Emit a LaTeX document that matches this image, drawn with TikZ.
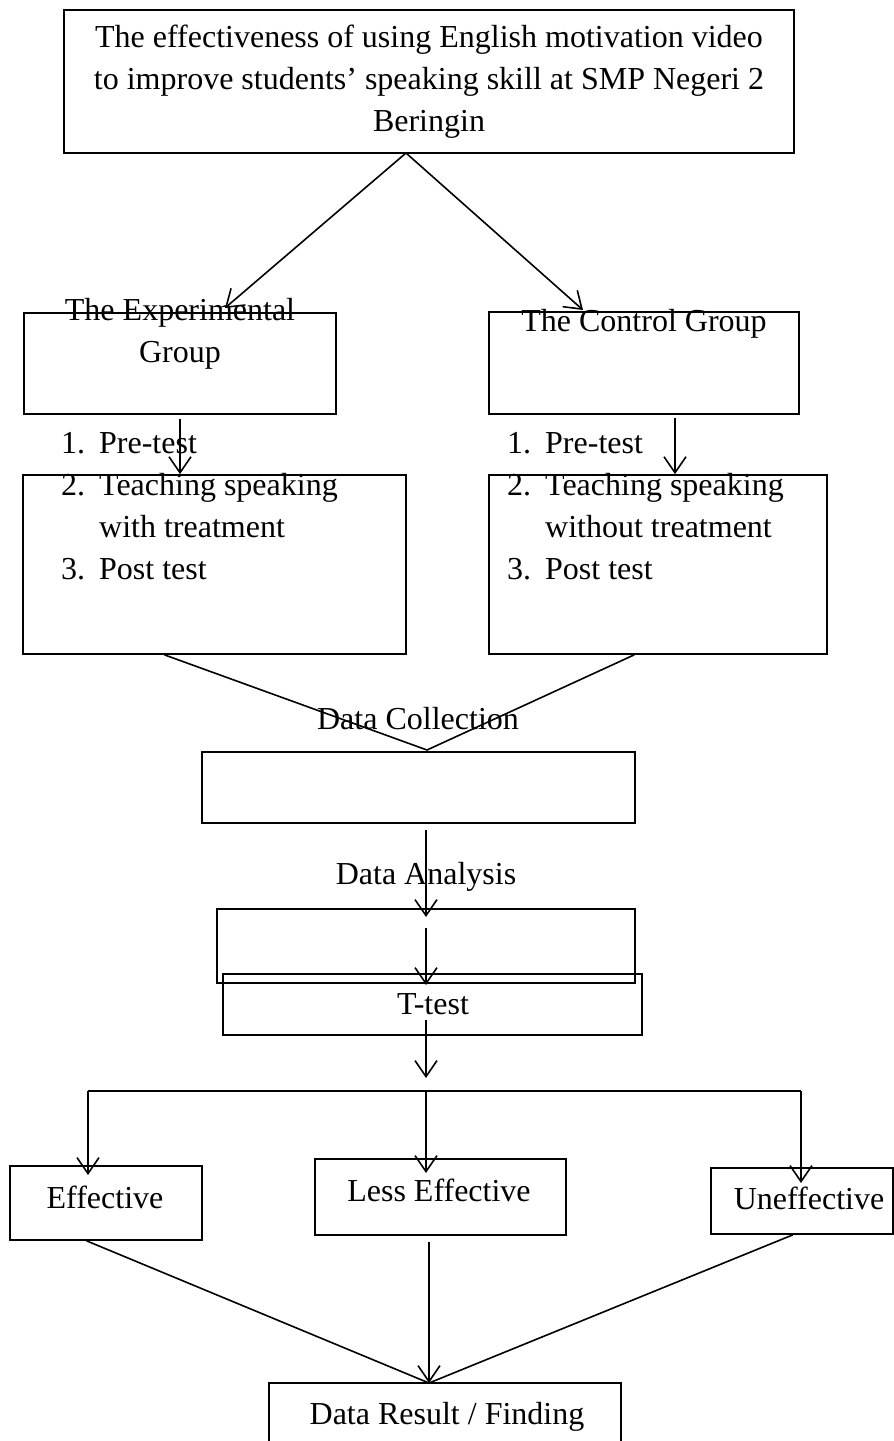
\documentclass[tikz,border=0pt]{standalone}
\usepackage{fontspec}
\setmainfont{Liberation Serif}
\usetikzlibrary{arrows.meta}
\usetikzlibrary{calc}
\usetikzlibrary{positioning}
\newcommand{\diagfont}{\fontsize{32}{42}\selectfont}
\tikzset{
  box/.style={draw, line width=1.7pt, inner sep=0pt},
  txt/.style={font=\diagfont, inner sep=0pt, anchor=base},
  arrow/.style={-{Straight Barb[length=16pt,width=22pt]}, line width=1.6pt},
  link/.style={line width=1.6pt}
}
\begin{document}
\begin{tikzpicture}[x=1pt, y=-1pt]
\useasboundingbox (0,0) rectangle (894,1441);

% boxes
\node[box, minimum width=730pt, minimum height=143pt, align=center, font=\diagfont] (topic) at (429,81.5)
  {The effectiveness of using English motivation video\\to improve students’ speaking skill at SMP Negeri 2\\Beringin};
\node[box, minimum width=312pt, minimum height=101pt] (expgroup) at (180,363.5) {};
\node[box, minimum width=310pt, minimum height=102pt] (ctlgroup) at (644,363) {};
\node[box, minimum width=383pt, minimum height=179pt] (expsteps) at (214.5,564.5) {};
\node[box, minimum width=338pt, minimum height=179pt] (ctlsteps) at (658,564.5) {};
\node[box, minimum width=433pt, minimum height=71pt] (collect) at (418.5,787.5) {};
\node[box, minimum width=418pt, minimum height=74pt] (analysis) at (426,946) {};
\node[box, minimum width=419pt, minimum height=61pt] (ttest) at (432.5,1004.5) {};
\node[box, minimum width=192pt, minimum height=74pt] (eff) at (106,1203) {};
\node[box, minimum width=251pt, minimum height=76pt] (less) at (440.5,1197) {};
\node[box, minimum width=182pt, minimum height=66pt] (uneff) at (802,1201) {};
\node[box, minimum width=352pt, minimum height=67pt] (result) at (445,1416.5) {};

% texts
\node[txt, align=center, anchor=center] (exptext) at (180,334) {The Experimental\\Group};
\node[txt] (ctltext) at (644,331) {The Control Group};
\node[txt, anchor=base west] (expsteptext) at (61,453)
  {\begin{tabular}[t]{@{}p{38pt}@{}l@{}}1. & Pre-test\\2. & Teaching speaking\\ & with treatment\\3. & Post test\end{tabular}};
\node[txt, anchor=base west] (ctlsteptext) at (507,453)
  {\begin{tabular}[t]{@{}p{38pt}@{}l@{}}1. & Pre-test\\2. & Teaching speaking\\ & without treatment\\3. & Post test\end{tabular}};
\node[txt] (collecttext) at (418,729) {Data Collection};
\node[txt] (analysistext) at (426,884) {Data Analysis};
\node[txt] (ttesttext) at (433,1014) {T-test};
\node[txt] (efftext) at (105,1208) {Effective};
\node[txt] (lesstext) at (439,1201) {Less Effective};
\node[txt] (unefftext) at (809,1209) {Uneffective};
\node[txt] (resulttext) at (447,1424) {Data Result / Finding};

% connectors
\coordinate (apex) at (406,153);
\coordinate (exptip) at (225,308);
\coordinate (ctltip) at (583,310);
\draw[arrow] (apex) -- (exptip);
\draw[arrow] (apex) -- (ctltip);
\draw[arrow, shorten <=4pt] (expgroup.south) -- (expgroup.south |- expsteps.north);
\coordinate (ctldown) at (675,418);
\draw[arrow] (ctldown) -- (ctldown |- ctlsteps.north);

\coordinate (merge) at (427,750);
\draw[link] ($(expsteps.south west)!0.37!(expsteps.south east)$) -- (merge)
  -- ($(ctlsteps.south west)!0.43!(ctlsteps.south east)$);

\coordinate (spine1) at (426,830);
\coordinate (spine2) at (426,917);
\coordinate (spine3) at (426,928);
\coordinate (spine4) at (426,985);
\coordinate (spine5) at (426,1020);
\coordinate (spine6) at (426,1078);
\draw[arrow] (spine1) -- (spine2);
\draw[arrow] (spine3) -- (spine4);
\draw[arrow] (spine5) -- (spine6);

\coordinate (fanl) at (88,1091);
\coordinate (fanm) at (426,1091);
\coordinate (fanr) at (801,1091);
\draw[link] (fanl) -- (fanr);
\draw[arrow] (fanl) -- ++(0,84);
\draw[arrow] (fanm) -- ++(0,82);
\draw[arrow] (fanr) -- ++(0,92);

\coordinate (join) at (429,1383);
\draw[link] ($(eff.south west)!0.4!(eff.south east)$) -- (join);
\draw[arrow, shorten <=6pt] (less.south -| join) -- (join);
\draw[link] ($(uneff.south west)!0.45!(uneff.south east)$) -- (join);
\end{tikzpicture}
\end{document}
